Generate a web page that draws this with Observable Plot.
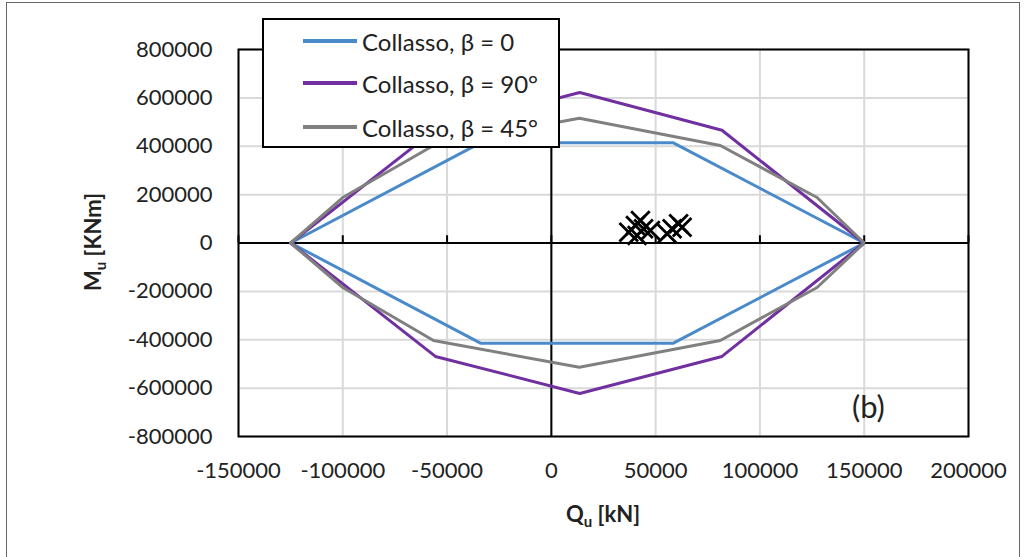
<!DOCTYPE html>
<html>
<head>
<meta charset="utf-8">
<script src="https://cdn.jsdelivr.net/npm/d3@7"></script>
<script src="https://cdn.jsdelivr.net/npm/@observablehq/plot@0.6"></script>
<style>
  html, body { margin: 0; padding: 0; background: #fff; }
  #wrap { position: relative; width: 1027px; height: 557px; font-family: Lato, "Open Sans", sans-serif; }
  #border { position: absolute; left: 6px; top: 2px; width: 1014px; height: 600px; border: 1px solid #666; box-sizing: border-box; pointer-events: none; }
  #legend { position: absolute; left: 262px; top: 18px; width: 298px; height: 130px; box-sizing: border-box;
            border: 2px solid #000; background: #fff; }
  .row { position: absolute; left: 0; height: 30px; display: flex; align-items: center; font-size: 24px; color: #222; white-space: nowrap; }
  .sw { width: 54px; height: 3.5px; margin-left: 39px; margin-right: 5px; }
</style>
</head>
<body>
<div id="wrap"></div>
<script>
// ---- data ----
const xTicks = [-150000, -100000, -50000, 0, 50000, 100000, 150000, 200000];
const yTicks = [-800000, -600000, -400000, -200000, 0, 200000, 400000, 600000, 800000];

const seriesNames = ["Collasso, β = 0", "Collasso, β = 90°", "Collasso, β = 45°"];
const seriesColors = ["#4a8ac9", "#7030a0", "#808080"];

// β = 0 (blue)
const beta0Q = [-125000, -34000, 58500, 150000, 58500, -34000, -125000];
const beta0M = [0, 414000, 414000, 0, -414000, -414000, 0];
// β = 90° (purple)
const beta90Q = [-125000, -55600, 13600, 81800, 150000, 81800, 13600, -55600, -125000];
const beta90M = [0, 469000, 622000, 466000, 0, -469000, -622000, -469000, 0];
// β = 45° (grey)
const beta45Q = [-125000, -100000, -56500, 13400, 81000, 127400, 150000, 127400, 81000, 13400, -56500, -100000, -125000];
const beta45M = [0, 188000, 403000, 516000, 403000, 188000, 0, -184000, -403000, -514000, -403000, -184000, 0];

// demand points (X markers)
const ptsQ = [37100, 40300, 42700, 44200, 47500, 41100, 55500, 57900, 61000, 62700];
const ptsM = [44600, 72300, 93000, 58700, 51700, 31000, 38000, 58700, 79400, 65300];

const annotLabel = ["(b)"];
const annotQ = [152000];
const annotM = [-684000];

// ---- build tables ----
const lines = [];
[[beta0Q, beta0M], [beta90Q, beta90M], [beta45Q, beta45M]].forEach(([qs, ms], i) => {
  qs.forEach((q, j) => lines.push({s: seriesNames[i], q, m: ms[j]}));
});
const pts = ptsQ.map((q, i) => ({q, m: ptsM[i]}));
const annots = annotLabel.map((t, i) => ({t, q: annotQ[i], m: annotM[i]}));

const chart = Plot.plot({
  width: 1027,
  height: 557,
  marginLeft: 238,
  marginRight: 59,
  marginTop: 49,
  marginBottom: 121,
  style: {fontFamily: "Lato, 'Open Sans', sans-serif", background: "transparent"},
  x: {domain: [-150000, 200000]},
  y: {domain: [-800000, 800000]},
  color: {domain: seriesNames, range: seriesColors},
  marks: [
    Plot.gridX(xTicks, {stroke: "#d9d9d9", strokeOpacity: 1, strokeWidth: 2}),
    Plot.gridY(yTicks, {stroke: "#d9d9d9", strokeOpacity: 1, strokeWidth: 2}),
    Plot.axisX(xTicks, {tickSize: 0, tickPadding: 26, fontSize: 22, tickFormat: d => String(d), fill: "#222", label: null}),
    Plot.axisY(yTicks, {tickSize: 0, tickPadding: 26, fontSize: 22, tickFormat: d => String(d), fill: "#222", label: null}),
    Plot.frame({stroke: "#000", strokeWidth: 2}),
    Plot.ruleY([0], {stroke: "#000", strokeWidth: 2}),
    Plot.ruleX([0], {stroke: "#000", strokeWidth: 2}),
    Plot.ruleX(xTicks, {y1: 0, y2: 30000, stroke: "#000", strokeWidth: 2}),
    Plot.line(lines, {x: "q", y: "m", z: "s", stroke: "s", strokeWidth: 3, strokeLinejoin: "miter"}),
    Plot.dot(pts, {x: "q", y: "m", symbol: "times", r: 8.5, stroke: "#000", strokeWidth: 2.8}),
    Plot.text(annots, {x: "q", y: "m", text: "t", fontSize: 31, fill: "#222"})
  ]
});

const wrap = document.getElementById("wrap");
wrap.appendChild(chart);

// axis titles with subscripts
const svg = d3.select(chart);
const yl = svg.append("text")
  .attr("transform", "translate(101,242) rotate(-90)")
  .attr("text-anchor", "middle")
  .attr("font-size", 22).attr("font-weight", "bold").attr("fill", "#222");
yl.append("tspan").text("M");
yl.append("tspan").text("u").attr("font-size", 15).attr("dy", 5);
yl.append("tspan").text(" [KNm]").attr("dy", -5);

const xl = svg.append("text")
  .attr("transform", "translate(603,522)")
  .attr("text-anchor", "middle")
  .attr("font-size", 22).attr("font-weight", "bold").attr("fill", "#222");
xl.append("tspan").text("Q");
xl.append("tspan").text("u").attr("font-size", 15).attr("dy", 5);
xl.append("tspan").text(" [kN]").attr("dy", -5);

// legend
const border = document.createElement("div");
border.id = "border";
wrap.appendChild(border);
const legend = document.createElement("div");
legend.id = "legend";
const rowTops = [6, 48, 92];
seriesNames.forEach((n, i) => {
  const r = document.createElement("div");
  r.className = "row";
  r.style.top = rowTops[i] + "px";
  const sw = document.createElement("div");
  sw.className = "sw";
  sw.style.background = seriesColors[i];
  const t = document.createElement("span");
  t.textContent = n;
  r.appendChild(sw);
  r.appendChild(t);
  legend.appendChild(r);
});
wrap.appendChild(legend);
</script>
</body>
</html>
